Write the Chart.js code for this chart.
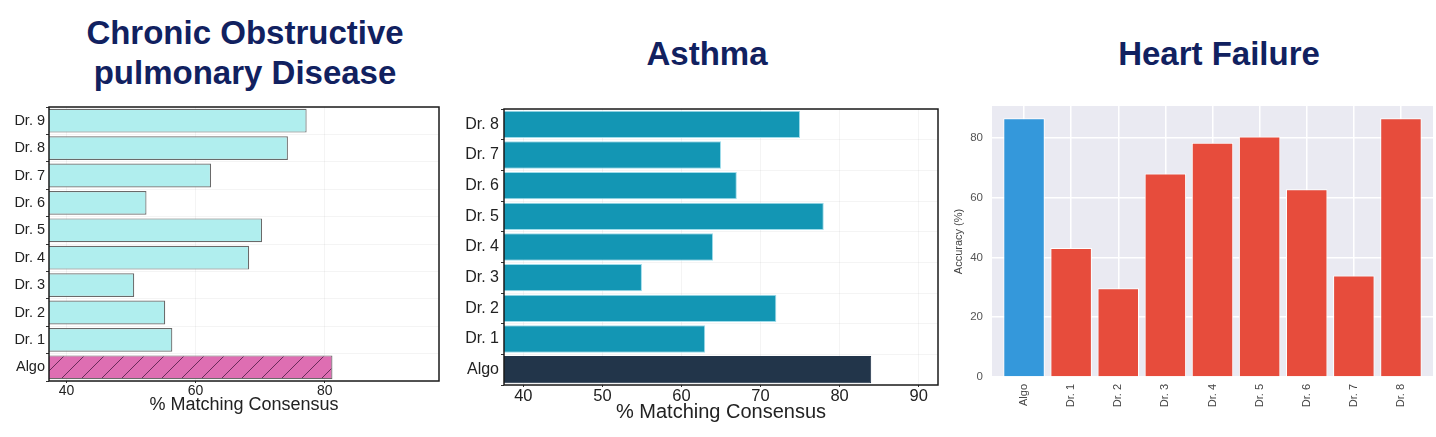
<!DOCTYPE html>
<html>
<head>
<meta charset="utf-8">
<script src="https://cdn.jsdelivr.net/npm/chart.js@4.4.1/dist/chart.umd.min.js"></script>
<style>
  html, body { margin: 0; padding: 0; background: #fff; }
  body { width: 1436px; height: 437px; position: relative; overflow: hidden; }
  .title {
    position: absolute;
    font-family: "Liberation Sans", Arial, sans-serif;
    font-weight: bold;
    font-size: 33px;
    line-height: 40px;
    color: #112160;
    text-align: center;
    white-space: nowrap;
  }
  .panel { position: absolute; top: 100px; height: 337px; }
</style>
</head>
<body>
<div class="title" style="left:45px; width:400px; top:13px;">Chronic Obstructive<br>pulmonary Disease</div>
<div class="title" style="left:557px; width:300px; top:34px;">Asthma</div>
<div class="title" style="left:1069px; width:300px; top:34px;">Heart Failure</div>

<div class="panel" style="left:0; width:450px;"><canvas id="copd"></canvas></div>
<div class="panel" style="left:450px; width:490px;"><canvas id="asthma"></canvas></div>
<div class="panel" style="left:940px; width:496px;"><canvas id="hf"></canvas></div>

<script>
// --- data ---
const copdLabels = ['Algo', 'Dr. 1', 'Dr. 2', 'Dr. 3', 'Dr. 4', 'Dr. 5', 'Dr. 6', 'Dr. 7', 'Dr. 8', 'Dr. 9'];
const copdValues = [81.2, 56.4, 55.3, 50.5, 68.3, 70.3, 52.4, 62.4, 74.3, 77.2];
const copdTicks = [40, 60, 80];

const asthmaLabels = ['Algo', 'Dr. 1', 'Dr. 2', 'Dr. 3', 'Dr. 4', 'Dr. 5', 'Dr. 6', 'Dr. 7', 'Dr. 8'];
const asthmaValues = [84, 63, 72, 55, 64, 78, 67, 65, 75];
const asthmaTicks = [40, 50, 60, 70, 80, 90];

const hfLabels = ['Algo', 'Dr. 1', 'Dr. 2', 'Dr. 3', 'Dr. 4', 'Dr. 5', 'Dr. 6', 'Dr. 7', 'Dr. 8'];
const hfValues = [86.5, 43.1, 29.7, 68.0, 78.3, 80.4, 62.8, 33.9, 86.5];
const hfTicks = [0, 20, 40, 60, 80];

const FONT = '"Liberation Sans", Arial, sans-serif';
Chart.defaults.font.family = FONT;
Chart.defaults.animation = false;

// fix the axis box size and drop the label overhang padding,
// so the plot area ends up exactly where layout.padding says
function fixSize(w, h) {
  return s => {
    if (w != null) s.width = w;
    if (h != null) s.height = h;
    s.paddingTop = 0; s.paddingBottom = 0; s.paddingLeft = 0; s.paddingRight = 0;
  };
}

// black box around the plot area
const frame = {
  id: 'frame',
  afterDraw(chart) {
    const a = chart.chartArea, c = chart.ctx;
    c.save();
    c.strokeStyle = '#1a1a1a';
    c.lineWidth = 1.5;
    c.strokeRect(a.left, a.top, a.right - a.left, a.bottom - a.top);
    c.restore();
  }
};

// seaborn-ish grey background
const darkgrid = {
  id: 'darkgrid',
  beforeDraw(chart) {
    const a = chart.chartArea, c = chart.ctx;
    c.save();
    c.fillStyle = '#eaeaf2';
    c.fillRect(a.left, a.top, a.right - a.left, a.bottom - a.top);
    c.restore();
  }
};

function hatch(fill, line) {
  const p = document.createElement('canvas');
  p.width = 20; p.height = 20;
  const c = p.getContext('2d');
  c.fillStyle = fill;
  c.fillRect(0, 0, 20, 20);
  c.strokeStyle = line;
  c.lineWidth = 0.9;
  c.beginPath();
  c.moveTo(0, 20); c.lineTo(20, 0);
  c.moveTo(-10, 10); c.lineTo(10, -10);
  c.moveTo(10, 30); c.lineTo(30, 10);
  c.stroke();
  return c.createPattern(p, 'repeat');
}

const faint = 'rgba(0,0,0,0.045)';

// --- COPD ---
new Chart(document.getElementById('copd'), {
  type: 'bar',
  data: {
    labels: copdLabels,
    datasets: [{
      data: copdValues,
      backgroundColor: copdLabels.map(l => l === 'Algo' ? hatch('#de6eb2', '#5a2550') : '#b0eeee'),
      borderColor: '#6a6a6a',
      borderWidth: 1.2,
      barPercentage: 0.87,
      categoryPercentage: 1
    }]
  },
  options: {
    indexAxis: 'y',
    responsive: true,
    maintainAspectRatio: false,
    layout: { padding: { left: 0, right: 11, top: 7, bottom: 0 } },
    plugins: { legend: { display: false }, tooltip: { enabled: false } },
    scales: {
      x: {
        type: 'linear', min: 37.3, max: 97.7,
        afterBuildTicks: s => { s.ticks = copdTicks.map(v => ({ value: v })); },
        afterFit: fixSize(null, 56),
        border: { display: false },
        grid: { color: faint, tickColor: '#333', tickLength: 2 },
        ticks: { color: '#222', font: { size: 14 }, padding: 0 },
        title: { display: true, text: '% Matching Consensus', color: '#222', font: { size: 18 }, padding: { top: 0, bottom: 21 } }
      },
      y: {
        reverse: true,
        afterFit: fixSize(49, null),
        border: { display: false },
        grid: { color: faint, tickColor: '#333', tickLength: 3 },
        ticks: { color: '#222', font: { size: 14.5 }, padding: 1 }
      }
    }
  },
  plugins: [frame]
});

// --- Asthma ---
new Chart(document.getElementById('asthma'), {
  type: 'bar',
  data: {
    labels: asthmaLabels,
    datasets: [{
      data: asthmaValues,
      backgroundColor: asthmaLabels.map(l => l === 'Algo' ? '#22354a' : '#1396b4'),
      borderColor: asthmaLabels.map(l => l === 'Algo' ? '#22354a' : '#9fdcea'),
      borderWidth: 1,
      barPercentage: 0.89,
      categoryPercentage: 1
    }]
  },
  options: {
    indexAxis: 'y',
    responsive: true,
    maintainAspectRatio: false,
    layout: { padding: { left: 0, right: 2, top: 9, bottom: 0 } },
    plugins: { legend: { display: false }, tooltip: { enabled: false } },
    scales: {
      x: {
        type: 'linear', min: 37.55, max: 92.45,
        afterBuildTicks: s => { s.ticks = asthmaTicks.map(v => ({ value: v })); },
        afterFit: fixSize(null, 52),
        border: { display: false },
        grid: { color: faint, tickColor: '#333', tickLength: 2 },
        ticks: { color: '#222', font: { size: 16.5 }, padding: 0 },
        title: { display: true, text: '% Matching Consensus', color: '#222', font: { size: 20 }, padding: { top: 0, bottom: 13 } }
      },
      y: {
        reverse: true,
        afterFit: fixSize(54, null),
        border: { display: false },
        grid: { color: faint, tickColor: '#333', tickLength: 3 },
        ticks: { color: '#222', font: { size: 16 }, padding: 2 }
      }
    }
  },
  plugins: [frame]
});

// --- Heart failure ---
new Chart(document.getElementById('hf'), {
  type: 'bar',
  data: {
    datasets: [{
      data: hfValues.map((v, i) => ({ x: i, y: v })),
      backgroundColor: hfLabels.map(l => l === 'Algo' ? '#3498db' : '#e74c3c'),
      borderColor: '#ffffff',
      borderWidth: 1,
      barPercentage: 0.88,
      categoryPercentage: 1
    }]
  },
  options: {
    responsive: true,
    maintainAspectRatio: false,
    layout: { padding: { left: 0, right: 3, top: 6, bottom: 0 } },
    plugins: { legend: { display: false }, tooltip: { enabled: false } },
    scales: {
      x: {
        type: 'linear', offset: false, min: -0.68, max: hfLabels.length - 1 + 0.68,
        afterBuildTicks: s => { s.ticks = hfLabels.map((l, i) => ({ value: i })); },
        afterFit: fixSize(null, 60),
        border: { display: false },
        grid: { color: '#ffffff', lineWidth: 1.5, drawTicks: false, offset: false },
        ticks: {
          color: '#444', font: { size: 11 }, padding: 7,
          minRotation: 90, maxRotation: 90, autoSkip: false,
          callback: v => hfLabels[v]
        }
      },
      y: {
        min: 0, max: 90.6,
        afterBuildTicks: s => { s.ticks = hfTicks.map(v => ({ value: v })); },
        afterFit: fixSize(52, null),
        border: { display: false },
        grid: { color: '#ffffff', lineWidth: 1.5, drawTicks: false },
        ticks: { color: '#555', font: { size: 11.5 }, padding: 9 },
        title: { display: true, text: 'Accuracy (%)', color: '#444', font: { size: 11 }, padding: { top: 12, bottom: 0 } }
      }
    }
  },
  plugins: [darkgrid]
});
</script>
</body>
</html>
